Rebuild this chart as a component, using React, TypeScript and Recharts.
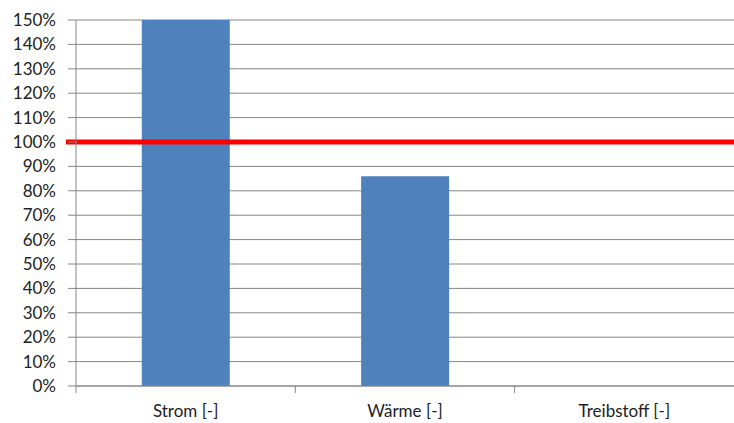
import React from 'react';
import { BarChart, Bar, XAxis, YAxis, CartesianGrid, ReferenceLine } from 'recharts';

const categories = ['Strom [-]', 'Wärme [-]', 'Treibstoff [-]'];
const shares = [150, 86, 0];
const yTicks = [0, 10, 20, 30, 40, 50, 60, 70, 80, 90, 100, 110, 120, 130, 140, 150];
const targetLine = 100;

const data = categories.map((name, i) => ({ name, value: shares[i] }));

const WIDTH = 734;
const HEIGHT = 423;
const LEFT = 76;
const CAT_W = (WIDTH - LEFT) / categories.length;
const FONT = 'Lato, "Open Sans", sans-serif';

// category label centred, tick mark at the left boundary of each category
const CategoryTick = (props: any) => {
  const { x, y, payload } = props;
  const bx = x - CAT_W / 2;
  return (
    <g>
      <line x1={bx} y1={y - 8} x2={bx} y2={y - 1} stroke="#868686" />
      <text x={x} y={y + 23} textAnchor="middle" fontSize={17} fontFamily={FONT} fill="#222">
        {payload.value}
      </text>
    </g>
  );
};

// target line runs a little past the axis, over the tick marks
const TargetLine = (props: any) => {
  const { x1, y1, x2, y2 } = props;
  return <line x1={x1 - 10} y1={y1} x2={x2} y2={y2} stroke="#FF0000" strokeWidth={5} />;
};

export default function App() {
  return (
    <div style={{ position: 'absolute', left: 0, top: 0, background: '#fff' }}>
      <BarChart
        width={WIDTH}
        height={HEIGHT}
        data={data}
        margin={{ top: 20, right: 0, left: 0, bottom: 0 }}
        barCategoryGap="30%"
      >
        <CartesianGrid vertical={false} stroke="#868686" strokeWidth={1} />
        <XAxis
          dataKey="name"
          height={37}
          axisLine={{ stroke: '#868686' }}
          tickLine={false}
          tick={<CategoryTick />}
          interval={0}
        />
        <YAxis
          width={LEFT}
          domain={[0, 150]}
          ticks={yTicks}
          interval={0}
          allowDataOverflow
          tickFormatter={(v) => `${v}%`}
          axisLine={{ stroke: '#868686' }}
          tickLine={{ stroke: '#868686' }}
          tickSize={8}
          tick={{ fontSize: 17, fontFamily: FONT, fill: '#222' }}
          tickMargin={12}
        />
        <Bar dataKey="value" fill="#4F81BD" isAnimationActive={false} />
        <ReferenceLine y={targetLine} shape={<TargetLine />} ifOverflow="extendDomain" />
      </BarChart>
    </div>
  );
}
